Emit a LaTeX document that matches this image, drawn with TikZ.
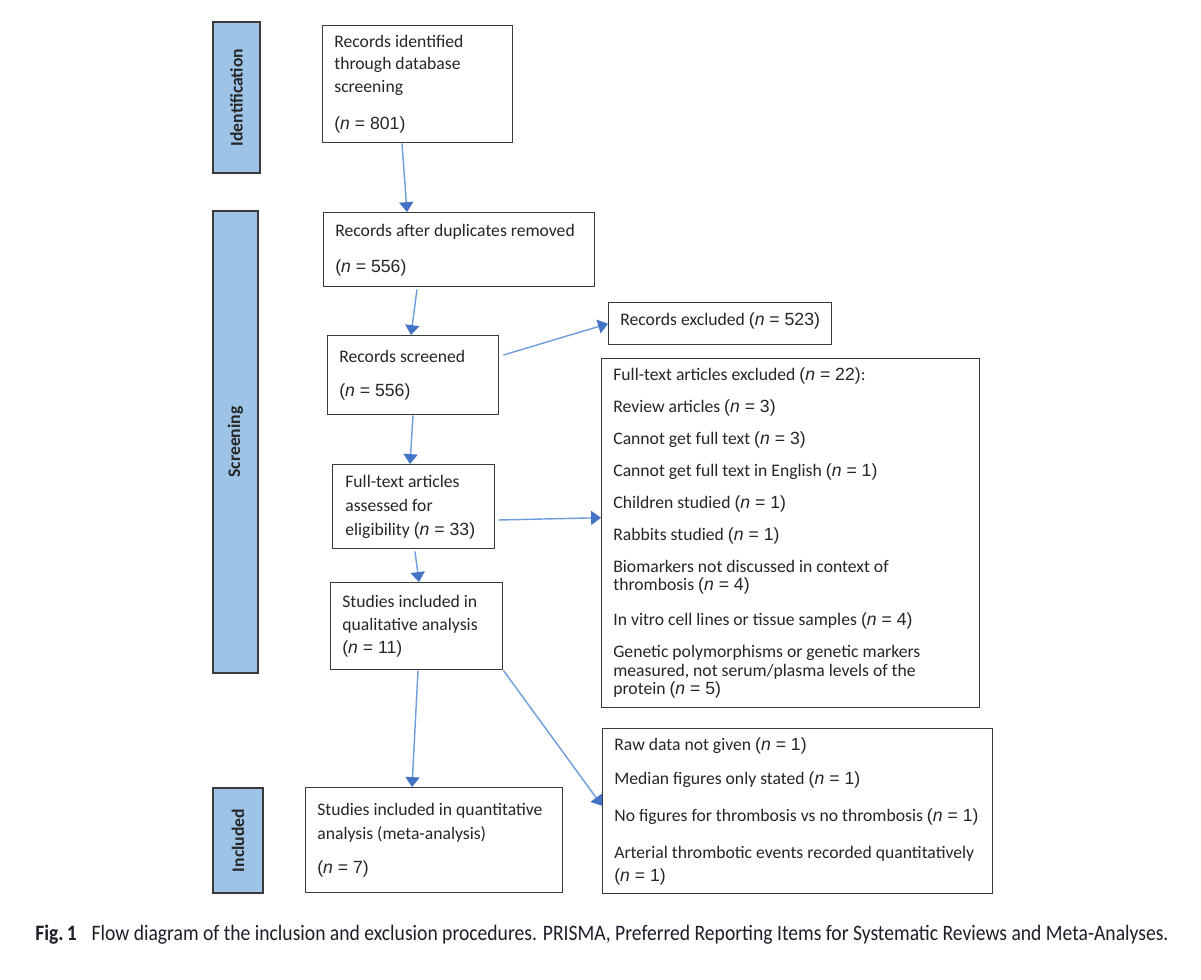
\documentclass[tikz,border=0pt]{standalone}
\usepackage{fontspec}
\usepackage{graphicx}
\setmainfont{Carlito}
\newfontfamily\arialf{Liberation Sans}
\usetikzlibrary{arrows.meta,calc}
\definecolor{barblue}{HTML}{9DC3E6}
\definecolor{arrline}{HTML}{6D9EDB}
\definecolor{arrhead}{HTML}{4472C4}
\definecolor{edgegray}{HTML}{3A3A3A}
\definecolor{txtgray}{HTML}{262626}
\definecolor{capgray}{HTML}{1E1E28}
\newcommand{\nval}[1]{{\arialf(\textit{n} = #1)}}
\begin{document}
\begin{tikzpicture}[x=0.5669pt,y=-0.5669pt,
  sz/.style 2 args={minimum width=#1*0.5669pt, minimum height=#2*0.5669pt},
  box/.style={draw=edgegray, line width=0.8pt, fill=white, anchor=north west, inner sep=0pt},
  txt/.style={anchor=west, align=left, inner sep=0pt, text=txtgray, font=\fontsize{10}{12.5}\selectfont},
  bar/.style={draw=edgegray, line width=1pt, fill=barblue, rotate=90, inner sep=0pt, text=txtgray, font=\fontsize{10}{12}\selectfont\bfseries},
  arr/.style={draw=arrline, line width=0.8pt, -{Triangle[width=8pt,length=5.6pt,fill=arrhead,color=arrhead]}}
  ]
\useasboundingbox[fill=white] (0,0) rectangle (1201,979);

% phase bars
\node[bar, sz={151}{47}] (idbar) at (236.5,97.5) {Identification};
\node[bar, sz={462}{45}] (scbar) at (235.5,442) {Screening};
\node[bar, sz={105}{50}] (inbar) at (238,840.5) {Included};

% boxes
\node[box, sz={190}{117}] (b1) at (322,25) {};
\node[txt] (b1t) at ([shift={(12,0)}]b1.west) {Records identified\\through database\\screening\\[8.5pt]\nval{801}};

\node[box, sz={271}{74}] (b2) at (323,212) {};
\node[txt] (b2t) at ([shift={(12,0)}]b2.west) {Records after duplicates removed\\[7.9pt]\nval{556}};

\node[box, sz={171}{79}] (b3) at (327,335) {};
\node[txt] (b3t) at ([shift={(12,0)}]b3.west) {Records screened\\[7.3pt]\nval{556}};

\node[box, sz={223}{42}] (e1) at (608,302) {};
\node[txt] (e1t) at ([shift={(12,-3)}]e1.west) {Records excluded \nval{523}};

\node[box, sz={162}{84}] (b4) at (332,464) {};
\node[txt, font=\fontsize{10}{13.6}\selectfont] (b4t) at ([shift={(13,0)}]b4.west) {Full-text articles\\assessed for\\eligibility \nval{33}};

\node[box, sz={172}{87}] (b5) at (330,582) {};
\node[txt, font=\fontsize{10}{13.3}\selectfont] (b5t) at ([shift={(12,0)}]b5.west) {Studies included in\\qualitative analysis\\\nval{11}};

\node[box, sz={257}{105}] (b6) at (305,787) {};
\node[txt, font=\fontsize{10}{13.6}\selectfont] (b6t) at ([shift={(12,0)}]b6.west) {Studies included in quantitative\\analysis (meta-analysis)\\[6.2pt]\nval{7}};

\node[box, sz={378}{349}] (e2) at (601,358) {};
\node[txt, font=\fontsize{10}{10.5}\selectfont] (e2t) at ([shift={(12,0)}]e2.west) {Full-text articles excluded \nval{22}:\\[7.6pt]
Review articles \nval{3}\\[7.6pt]
Cannot get full text \nval{3}\\[7.6pt]
Cannot get full text in English \nval{1}\\[7.6pt]
Children studied \nval{1}\\[7.6pt]
Rabbits studied \nval{1}\\[7.6pt]
Biomarkers not discussed in context of\\thrombosis \nval{4}\\[9.3pt]
In vitro cell lines or tissue samples \nval{4}\\[7.6pt]
Genetic polymorphisms or genetic markers\\measured, not serum/plasma levels of the\\protein \nval{5}};

\node[box, sz={390}{165}] (e3) at (602,728) {};
\node[txt, font=\fontsize{10}{13}\selectfont] (e3t) at ([shift={(12,0)}]e3.west) {Raw data not given \nval{1}\\[6.3pt]
Median figures only stated \nval{1}\\[8pt]
No figures for thrombosis vs no thrombosis \nval{1}\\[8pt]
Arterial thrombotic events recorded quantitatively\\\nval{1}};

% connectors
\draw[arr] ([shift={(80,0)}]b1.south west) -- ([shift={(84,0)}]b2.north west);
\draw[arr] ([shift={(94,2)}]b2.south west) -- ([shift={(84,0)}]b3.north west);
\draw[arr] ([shift={(4,20)}]b3.north east) -- (e1.west);
\draw[arr] ([shift={(86,0)}]b3.south west) -- ([shift={(78,0)}]b4.north west);
\draw[arr] ([shift={(3,56)}]b4.north east) -- ([shift={(0,-15.5)}]e2.west);
\draw[arr] ([shift={(83,2)}]b4.south west) -- ([shift={(89,0)}]b5.north west);
\draw[arr] ([shift={(88,0)}]b5.south west) -- ([shift={(107,0)}]b6.north west);
\draw[arr] (b5.south east) -- ([shift={(0,-5.5)}]e3.west);

% caption
\node[anchor=west, inner sep=0pt, text=capgray, font=\fontsize{12.5}{14}\selectfont] (cap) at (35,935)
 {\resizebox{642.3pt}{\height}{\textbf{Fig.\,1}\hspace{0.75em}Flow diagram of the inclusion and exclusion procedures. PRISMA, Preferred Reporting Items for Systematic Reviews and Meta-Analyses.}};
\end{tikzpicture}
\end{document}
